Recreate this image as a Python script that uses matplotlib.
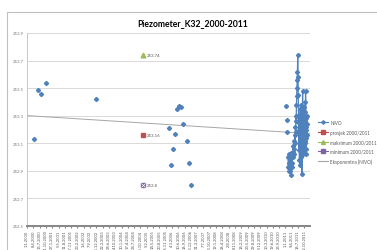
import numpy as np
import pandas as pd
import matplotlib
matplotlib.use("Agg")
import matplotlib.pyplot as plt
import matplotlib.dates as mdates
from matplotlib.lines import Line2D
from matplotlib.patches import Rectangle

plt.rcParams['font.family'] = ['Lato', 'DejaVu Sans']

# --- podaci ---
naslov = "Piezometer_K32_2000-2011"

# pojedinačna mjerenja (nisu spojena linijom)
datumi_pojedinacni = ["2000-04-19", "2000-06-25", "2000-08-06", "2000-10-17",
                      "2002-12-04",
                      "2006-01-18", "2006-02-23", "2006-03-21", "2006-04-22",
                      "2006-05-23", "2006-06-18", "2006-07-24", "2006-08-24",
                      "2006-10-20", "2006-11-20", "2006-12-21",
                      "2011-01-12", "2011-01-23", "2011-02-01"]
nivo_pojedinacni = [253.13, 253.49, 253.46, 253.54,
                    253.42,
                    253.21, 252.94, 253.06, 253.17,
                    253.35, 253.37, 253.36, 253.24,
                    253.12, 252.96, 252.80,
                    253.37, 253.27, 253.18]

# gusta mjerenja 2011 (spojena linijom)
datumi_2011 = ["2011-02-12", "2011-02-16", "2011-02-20", "2011-02-24", "2011-02-28",
               "2011-03-04", "2011-03-08", "2011-03-12", "2011-03-16", "2011-03-22",
               "2011-03-27", "2011-04-01", "2011-04-06", "2011-04-11", "2011-04-16",
               "2011-04-22", "2011-04-28", "2011-05-04", "2011-05-10", "2011-05-16",
               "2011-05-22", "2011-05-27", "2011-06-01", "2011-06-05", "2011-06-09",
               "2011-06-13", "2011-06-17", "2011-06-21", "2011-06-25", "2011-06-29",
               "2011-07-03", "2011-07-07", "2011-07-11", "2011-07-15", "2011-07-19",
               "2011-07-23", "2011-07-27",
               "2011-08-01", "2011-08-03", "2011-08-05", "2011-08-07", "2011-08-09",
               "2011-08-11", "2011-08-13", "2011-08-15", "2011-08-18", "2011-08-20",
               "2011-08-22", "2011-08-24", "2011-08-26", "2011-08-29", "2011-08-31",
               "2011-09-02", "2011-09-05", "2011-09-07", "2011-09-09", "2011-09-11",
               "2011-09-13", "2011-09-16", "2011-09-18", "2011-09-20", "2011-09-22",
               "2011-09-25", "2011-09-27", "2011-09-29", "2011-10-02", "2011-10-04",
               "2011-10-06", "2011-10-09", "2011-10-11", "2011-10-13", "2011-10-16",
               "2011-10-18", "2011-10-20", "2011-10-23", "2011-10-25", "2011-10-27",
               "2011-10-30", "2011-11-01", "2011-11-04", "2011-11-06", "2011-11-08",
               "2011-11-10", "2011-11-13", "2011-11-15", "2011-11-17", "2011-11-19",
               "2011-11-21", "2011-11-23", "2011-11-25", "2011-11-28", "2011-11-30"]
nivo_2011 = [253.00, 252.93, 253.02, 252.96, 252.90,
             253.00, 252.92, 252.97, 252.90, 253.03,
             252.87, 252.95, 252.93, 253.00, 252.96,
             253.04, 253.00, 253.08, 253.02, 253.12,
             253.06, 253.16, 253.10, 253.22, 253.18,
             253.30, 253.26, 253.38, 253.44, 253.50,
             253.56, 253.62, 253.74, 253.58, 253.45,
             253.30, 253.18,
             253.20, 253.05, 253.25, 252.98, 253.30,
             253.10, 253.22, 252.94, 253.28, 253.12,
             253.35, 253.08, 253.26, 253.00, 253.32,
             253.15, 253.38, 253.10, 253.30, 253.20,
             252.88, 253.05, 253.30, 253.12, 253.25,
             253.48, 253.02, 253.34, 253.18, 253.28,
             253.08, 253.36, 253.14, 253.24, 253.04,
             253.30, 253.16, 253.22, 253.06, 253.33,
             253.12, 253.26, 253.10, 253.40, 253.18,
             253.48, 253.20, 253.02, 253.28, 253.14,
             253.22, 253.06, 253.30, 253.16, 253.24]

# statistika 2000/2011
datum_stat = "2004-12-09"
prosjek = 253.16
maksimum = 253.74
minimum = 252.8

y_ticks = [252.5, 252.7, 252.9, 253.1, 253.3, 253.5, 253.7, 253.9]
x_tick_datumi = pd.date_range("2000-01-01", periods=45, freq="98D")
x_tick_labele = [f"{d.day}.{d.month}.{d.year}" for d in x_tick_datumi]

plava = "#4F81BD"
crvena = "#C0504D"
zelena = "#9BBB59"
ljubicasta = "#8064A2"
siva = "#A6A6A6"

# --- crtanje ---
fig = plt.figure(figsize=(3.77, 2.51), dpi=100)
fig.patches.append(Rectangle((7 / 377, -0.1), 1.2, 1 - 13 / 251 + 0.1,
                             transform=fig.transFigure, fill=False,
                             edgecolor="#BFBFBF", linewidth=0.8))
ax = fig.add_axes([27 / 377, 1 - 227 / 251, (310 - 27) / 377, (227 - 34) / 251])

t_poj = pd.to_datetime(datumi_pojedinacni)
t_11 = pd.to_datetime(datumi_2011)

for y in y_ticks:
    ax.axhline(y, color="#D9D9D9", linewidth=0.7, zorder=0)

# eksponencijalni trend (kao u Excelu: ln(y) ~ x)
t_sve = np.concatenate([mdates.date2num(t_poj), mdates.date2num(t_11)])
y_sve = np.array(nivo_pojedinacni + nivo_2011)
b, ln_a = np.polyfit(t_sve, np.log(y_sve), 1)
x0 = mdates.date2num(pd.Timestamp("2000-01-01"))
x1 = mdates.date2num(pd.Timestamp("2012-01-18"))
xt = np.linspace(x0, x1, 50)
ax.plot(xt, np.exp(ln_a + b * xt), color=siva, linewidth=0.7, zorder=1)

ax.plot(t_poj, nivo_pojedinacni, linestyle="none", marker="D", markersize=2.1,
        color=plava, zorder=3)
ax.plot(t_11, nivo_2011, linestyle="-", linewidth=0.9, marker="D", markersize=2.1,
        color=plava, zorder=3)

ts = pd.Timestamp(datum_stat)
ax.plot([ts], [prosjek], marker="s", markersize=3.2, color=crvena, linestyle="none", zorder=4)
ax.plot([ts], [maksimum], marker="^", markersize=3.4, color=zelena, linestyle="none", zorder=4)
ax.plot([ts], [minimum], marker="s", markersize=3.2, color=ljubicasta, linestyle="none", zorder=4)
ax.plot([ts], [minimum], marker="x", markersize=2.4, color="white", markeredgewidth=0.5,
        linestyle="none", zorder=5)
for v, txt in [(prosjek, "253.16"), (maksimum, "253.74"), (minimum, "252.8")]:
    ax.annotate(txt, (mdates.date2num(ts), v), xytext=(3, 0), textcoords="offset points",
                va="center", ha="left", fontsize=3.2, color="#595959")

ax.set_xlim(x0, x1)
ax.set_ylim(252.5, 253.9)
ax.set_yticks(y_ticks)
ax.set_yticklabels([f"{v:.1f}" for v in y_ticks], fontsize=3.2, color="#7F7F7F")
ax.set_xticks(mdates.date2num(x_tick_datumi))
ax.set_xticklabels(x_tick_labele, rotation=90, fontsize=3.0, color="#595959")
ax.tick_params(axis="both", length=0, pad=2)
ax.tick_params(axis="x", length=1.5, color="#868686", pad=1)
for s in ["top", "right"]:
    ax.spines[s].set_visible(False)
ax.spines["left"].set_color("#BFBFBF")
ax.spines["left"].set_linewidth(0.6)
ax.spines["bottom"].set_color("#868686")
ax.spines["bottom"].set_linewidth(1.4)

fig.text(193 / 377, 1 - 24 / 251, naslov, ha="center", va="center",
         fontsize=6.2, fontweight="bold", color="black")

handles = [
    Line2D([], [], color=plava, marker="D", markersize=1.8, linewidth=0.8),
    Line2D([], [], color=crvena, marker="s", markersize=2.6, linewidth=0.8),
    Line2D([], [], color=zelena, marker="^", markersize=2.8, linewidth=0.8),
    Line2D([], [], color=ljubicasta, marker="s", markersize=2.6, linewidth=0.8),
    Line2D([], [], color=siva, linewidth=0.8),
]
labele = ["NIVO", "prosjek 2000/2011", "maksimum 2000/2011", "minimum 2000/2011",
          "Eksponentna (NIVO)"]
fig.legend(handles, labele, loc="center left", bbox_to_anchor=(314 / 377, 1 - 143 / 251),
           fontsize=3.3, frameon=False, handlelength=2.2, handletextpad=0.5,
           labelspacing=1.0, labelcolor="#595959")

fig.savefig("out.png", dpi=100)
